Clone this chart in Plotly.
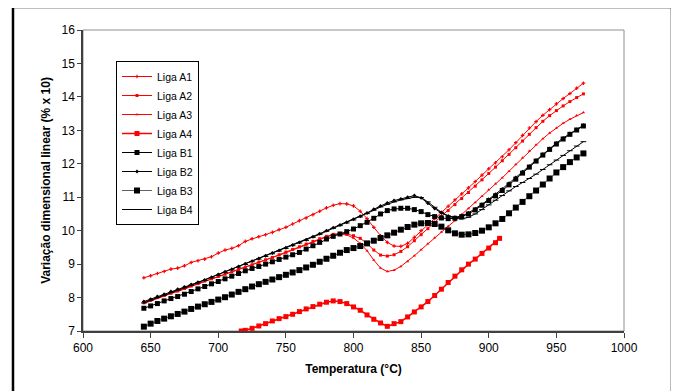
import plotly.graph_objects as go

# ---------------- data ----------------
T_main = list(range(645, 971, 5))  # temperatures (°C) 645..970

liga_a1 = [8.59, 8.65, 8.72, 8.78, 8.85, 8.88, 8.95, 9.05, 9.10, 9.15, 9.22, 9.33, 9.42, 9.47,
           9.55, 9.68, 9.76, 9.82, 9.88, 9.95, 10.03, 10.10, 10.20, 10.30, 10.38, 10.48, 10.58,
           10.68, 10.76, 10.81, 10.80, 10.74, 10.58, 10.36, 10.10, 9.85, 9.65, 9.54, 9.53, 9.62,
           9.80, 10.00, 10.18, 10.36, 10.55, 10.73, 10.92, 11.10, 11.28, 11.47, 11.66, 11.85,
           12.03, 12.21, 12.42, 12.63, 12.85, 13.07, 13.26, 13.45, 13.62, 13.79, 13.95, 14.10,
           14.26, 14.41]

liga_a2 = [7.85, 7.93, 8.00, 8.06, 8.13, 8.20, 8.27, 8.35, 8.42, 8.50, 8.56, 8.63, 8.70, 8.77,
           8.84, 8.91, 8.98, 9.06, 9.13, 9.20, 9.28, 9.36, 9.44, 9.52, 9.60, 9.68, 9.76, 9.83,
           9.89, 9.92, 9.91, 9.85, 9.77, 9.62, 9.42, 9.27, 9.24, 9.28, 9.38, 9.52, 9.70, 9.88,
           10.06, 10.24, 10.42, 10.60, 10.78, 10.96, 11.14, 11.33, 11.52, 11.71, 11.90, 12.09,
           12.28, 12.48, 12.68, 12.88, 13.08, 13.27, 13.44, 13.59, 13.73, 13.86, 13.98, 14.09]

liga_a3 = [7.82, 7.90, 7.98, 8.05, 8.12, 8.18, 8.26, 8.33, 8.41, 8.48, 8.55, 8.62, 8.69, 8.76,
           8.83, 8.90, 8.97, 9.04, 9.11, 9.19, 9.26, 9.34, 9.42, 9.50, 9.58, 9.66, 9.74, 9.81,
           9.87, 9.90, 9.87, 9.78, 9.62, 9.40, 9.12, 8.88, 8.78, 8.82, 8.93, 9.08, 9.25, 9.43,
           9.61, 9.79, 9.96, 10.13, 10.30, 10.48, 10.66, 10.84, 11.03, 11.22, 11.40, 11.58,
           11.78, 11.98, 12.18, 12.38, 12.57, 12.75, 12.92, 13.07, 13.21, 13.33, 13.44, 13.53]

T_a4 = [717, 720, 725, 730, 735, 740, 745, 750, 755, 760, 765, 770, 775, 780, 785, 790, 795,
        800, 805, 810, 815, 820, 825, 830, 835, 840, 845, 850, 855, 860, 865, 870, 875, 880,
        885, 890, 895, 900, 905, 908]
liga_a4 = [7.00, 7.02, 7.08, 7.15, 7.22, 7.30, 7.37, 7.43, 7.50, 7.58, 7.66, 7.73, 7.80, 7.86,
           7.90, 7.88, 7.82, 7.72, 7.62, 7.48, 7.35, 7.24, 7.14, 7.22, 7.28, 7.42, 7.57, 7.72,
           7.88, 8.06, 8.25, 8.45, 8.64, 8.83, 9.00, 9.15, 9.32, 9.48, 9.64, 9.77]

liga_b1 = [7.68, 7.75, 7.82, 7.90, 7.97, 8.03, 8.10, 8.18, 8.26, 8.33, 8.41, 8.48, 8.56, 8.64,
           8.72, 8.80, 8.87, 8.93, 9.00, 9.07, 9.14, 9.21, 9.28, 9.35, 9.45, 9.55, 9.65, 9.75,
           9.83, 9.90, 9.97, 10.05, 10.15, 10.25, 10.37, 10.50, 10.60, 10.65, 10.67, 10.67,
           10.63, 10.57, 10.48, 10.42, 10.38, 10.36, 10.37, 10.42, 10.50, 10.62, 10.76, 10.90,
           11.04, 11.20, 11.37, 11.54, 11.72, 11.90, 12.08, 12.26, 12.43, 12.59, 12.74, 12.88,
           13.01, 13.13]

liga_b2 = [7.88, 7.95, 8.03, 8.10, 8.18, 8.25, 8.32, 8.39, 8.46, 8.53, 8.61, 8.69, 8.77, 8.85,
           8.93, 9.01, 9.09, 9.17, 9.25, 9.33, 9.41, 9.49, 9.57, 9.65, 9.73, 9.82, 9.91, 10.00,
           10.09, 10.17, 10.25, 10.34, 10.43, 10.53, 10.64, 10.74, 10.83, 10.90, 10.95, 11.00,
           11.05, 10.98, 10.82, 10.66, 10.53, 10.44, 10.40, 10.44, 10.53, 10.65, 10.79, 10.94,
           11.09, 11.25, 11.42, 11.59, 11.76, 11.93, 12.11, 12.29, 12.46, 12.62, 12.77, 12.91,
           13.03, 13.15]

liga_b3 = [7.13, 7.22, 7.30, 7.37, 7.44, 7.51, 7.58, 7.66, 7.73, 7.80, 7.87, 7.94, 8.01, 8.09,
           8.17, 8.25, 8.33, 8.40, 8.47, 8.54, 8.61, 8.68, 8.75, 8.82, 8.90, 8.98, 9.07, 9.16,
           9.25, 9.34, 9.42, 9.48, 9.54, 9.62, 9.70, 9.78, 9.86, 9.94, 10.03, 10.11, 10.18,
           10.22, 10.23, 10.20, 10.12, 10.01, 9.92, 9.88, 9.89, 9.93, 10.00, 10.10, 10.22, 10.35,
           10.52, 10.69, 10.86, 11.03, 11.20, 11.38, 11.56, 11.74, 11.90, 12.05, 12.19, 12.31]

liga_b4 = [7.84, 7.92, 8.00, 8.07, 8.15, 8.22, 8.29, 8.37, 8.44, 8.51, 8.59, 8.67, 8.75, 8.83,
           8.91, 8.99, 9.07, 9.15, 9.23, 9.31, 9.39, 9.47, 9.55, 9.63, 9.71, 9.80, 9.89, 9.98,
           10.07, 10.15, 10.23, 10.32, 10.41, 10.51, 10.61, 10.71, 10.79, 10.86, 10.92, 10.96,
           11.00, 10.99, 10.86, 10.70, 10.55, 10.44, 10.37, 10.35, 10.40, 10.50, 10.63, 10.77,
           10.91, 11.05, 11.19, 11.32, 11.44, 11.56, 11.69, 11.83, 11.97, 12.11, 12.25, 12.39,
           12.53, 12.66]

x_ticks = [600, 650, 700, 750, 800, 850, 900, 950, 1000]
y_ticks = [7, 8, 9, 10, 11, 12, 13, 14, 15, 16]

# ---------------- figure ----------------
RED = "#FF0000"
BLACK = "#000000"
FONT = "Liberation Sans, Arial, sans-serif"

fig = go.Figure()

def add(name, x, y, color, symbol, size, lw, line_color=None, mline=0):
    fig.add_trace(go.Scatter(
        x=x, y=y, name=name, mode="lines+markers",
        line=dict(color=line_color or color, width=lw),
        marker=dict(symbol=symbol, size=size, color=color,
                    line=dict(width=mline, color=color)),
    ))

add("Liga A1", T_main, liga_a1, RED, "cross", 3, 1)
add("Liga A2", T_main, liga_a2, RED, "square", 3, 1)
add("Liga A3", T_main, liga_a3, RED, "triangle-up", 3, 1)
add("Liga A4", T_a4, liga_a4, RED, "square", 5, 1.5)
add("Liga B1", T_main, liga_b1, BLACK, "square", 5, 1)
add("Liga B2", T_main, liga_b2, BLACK, "diamond", 3, 1)
add("Liga B3", T_main, liga_b3, BLACK, "square", 6, 1, line_color="#606060")
add("Liga B4", T_main, liga_b4, BLACK, "line-ew", 4, 1, mline=1)

# page body has an 8px margin, so margins are shifted to keep the plot area in place
fig.update_layout(
    width=679, height=391,
    margin=dict(l=75, r=63, t=22, b=68),
    paper_bgcolor="white", plot_bgcolor="white",
    font=dict(family=FONT, size=12, color="black"),
    showlegend=True,
    legend=dict(
        x=0.061, y=0.897, xanchor="left", yanchor="top",
        bgcolor="white", bordercolor="black", borderwidth=1,
        font=dict(family=FONT, size=10.5, color="black"),
        itemwidth=30, tracegroupgap=0,
    ),
    xaxis=dict(
        range=[600, 1000], tickvals=x_ticks, ticktext=[str(v) for v in x_ticks],
        showgrid=False, zeroline=False, showline=True, linecolor="#404040", linewidth=1.5,
        ticks="outside", ticklen=5, tickcolor="#404040",
        tickfont=dict(family=FONT, size=12),
        title=dict(text="<b>Temperatura (°C)</b>", font=dict(family=FONT, size=12), standoff=10),
        automargin=False,
    ),
    yaxis=dict(
        range=[7, 16], tickvals=y_ticks, ticktext=[str(v) for v in y_ticks],
        showgrid=False, zeroline=False, showline=True, linecolor="#404040", linewidth=1.5,
        ticks="outside", ticklen=4, tickcolor="#404040",
        tickfont=dict(family=FONT, size=12),
        title=dict(text="<b>Variação dimensional linear (% x 10)</b>",
                   font=dict(family=FONT, size=12), standoff=8),
        automargin=False,
    ),
    shapes=[
        # plot-area border (gray)
        dict(type="rect", xref="paper", yref="paper", x0=0, y0=0, x1=1, y1=1,
             line=dict(color="#909090", width=1), layer="below"),
        # outer chart frame
        dict(type="rect", xref="paper", yref="paper", x0=-0.1294, y0=-0.25, x1=1.0887, y1=1.0764,
             line=dict(color="black", width=2.5), layer="above"),
    ],
)

fig.write_html("out.html")
